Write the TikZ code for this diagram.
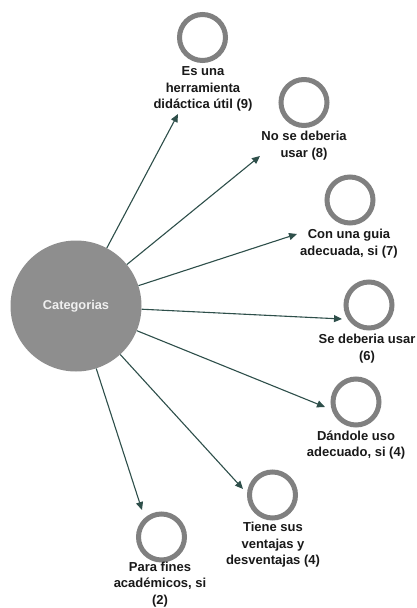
\documentclass[tikz,border=0pt]{standalone}
\usepackage{fontspec}
\setmainfont{Liberation Sans}
\usetikzlibrary{arrows.meta}
\definecolor{ringgray}{HTML}{808080}
\definecolor{hubgray}{HTML}{8E8E8E}
\definecolor{arrowcol}{HTML}{2E4F4A}
\tikzset{
  ring/.style={circle, draw=ringgray, line width=5pt, minimum size=46pt, inner sep=0pt},
  hub/.style={circle, fill=hubgray, minimum size=131pt, inner sep=0pt, text=white!94!black, font=\bfseries\fontsize{12.8}{15}\selectfont},
  lbl/.style={align=center, inner sep=0pt, font=\bfseries\fontsize{13}{16.5}\selectfont, text=black!90},
  link/.style={draw=arrowcol, line width=1.1pt, -{Triangle[length=8pt,width=7pt]}}
}
\begin{document}
\begin{tikzpicture}[x=1pt,y=-1pt]
\useasboundingbox[fill=white] (0,0) rectangle (416,608);
\node[hub] (c) at (76,306) {Categorias};
% rings
\node[ring] (r1) at (202.5,37.5) {};
\node[ring] (r2) at (304,102.5) {};
\node[ring] (r3) at (350,200) {};
\node[ring] (r4) at (369,305) {};
\node[ring] (r5) at (356,402) {};
\node[ring] (r6) at (272.5,495) {};
\node[ring] (r7) at (161.5,537) {};
% labels
\node[lbl] (l1) at (203,89) {Es una\\herramienta\\didáctica útil (9)};
\node[lbl] (l2) at (304,145.5) {No se deberia\\usar (8)};
\node[lbl] (l3) at (349,243.5) {Con una guia\\adecuada, si (7)};
\node[lbl] (l4) at (367,348.5) {Se deberia usar\\(6)};
\node[lbl] (l5) at (356,445) {Dándole uso\\adecuado, si (4)};
\node[lbl] (l6) at (273,545) {Tiene sus\\ventajas y\\desventajas (4)};
\node[lbl] (l7) at (160,584.5) {Para fines\\académicos, si\\(2)};
% arrow tips
\coordinate (t1) at (178,114);
\coordinate (t2) at (260,156);
\coordinate (t3) at (297,234);
\coordinate (t4) at (342,319);
\coordinate (t5) at (325,407);
\coordinate (t6) at (243,489);
\coordinate (t7) at (142,510);
\foreach \i in {1,...,7} {\draw[link] (c) -- (t\i);}
\end{tikzpicture}
\end{document}
